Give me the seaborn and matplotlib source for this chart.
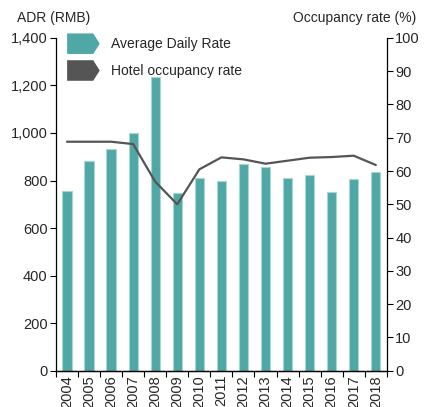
import pandas as pd
import matplotlib
matplotlib.use("Agg")
import matplotlib.pyplot as plt
import seaborn as sns
from matplotlib.patches import Patch, Polygon
from matplotlib.legend_handler import HandlerPatch
from matplotlib.ticker import FuncFormatter, FixedLocator, NullFormatter

years = ['2004', '2005', '2006', '2007', '2008', '2009', '2010', '2011',
         '2012', '2013', '2014', '2015', '2016', '2017', '2018']
adr = [758, 884, 932, 1000, 1235, 749, 811, 797, 870, 858, 811, 825, 752, 807, 837]
occupancy = [68.8, 68.8, 68.8, 68.1, 56.8, 50.0, 60.5, 64.1, 63.5, 62.2, 63.1, 64.0, 64.2, 64.6, 61.8]

bar_color = '#4fa8a5'
line_color = '#555555'

df = pd.DataFrame({'year': years, 'adr': adr, 'occ': occupancy})

sns.set_style('white')
plt.rcParams['font.family'] = ['Liberation Sans', 'DejaVu Sans']
plt.rcParams['font.size'] = 10


class ArrowHandler(HandlerPatch):
    # pentagon-shaped legend key, like an arrow tag
    def create_artists(self, legend, orig_handle, xdescent, ydescent,
                       width, height, fontsize, trans):
        x0, y0 = -xdescent, -ydescent
        verts = [(x0, y0), (x0 + 0.8 * width, y0), (x0 + width, y0 + height / 2),
                 (x0 + 0.8 * width, y0 + height), (x0, y0 + height)]
        p = Polygon(verts, closed=True, facecolor=orig_handle.get_facecolor(),
                    edgecolor='none', transform=trans)
        return [p]


fig = plt.figure(figsize=(4.27, 4.07), dpi=100)
ax = fig.add_axes([0.131, 0.089, 0.775, 0.818])

sns.barplot(data=df, x='year', y='adr', color=bar_color, width=0.42,
            saturation=1, edgecolor='#a8d5d2', linewidth=0.8, ax=ax)
ax.set_xlim(-0.5, 14.5)
ax.set_ylim(0, 1400)
ax.set_yticks(range(0, 1401, 200))
ax.yaxis.set_major_formatter(FuncFormatter(lambda v, p: f'{int(v):,}'))
ax.set_xlabel('')
ax.set_ylabel('')

ax2 = ax.twinx()
sns.lineplot(x=list(range(len(years))), y=occupancy, color=line_color,
             linewidth=1.6, ax=ax2)
ax2.set_ylim(0, 100)
ax2.set_yticks(range(0, 101, 10))
ax2.set_xlim(-0.5, 14.5)

# x ticks: labels at centres, tick marks between categories
ax.set_xticks(range(len(years)))
ax.set_xticklabels(years, rotation=90)
ax.tick_params(axis='x', which='major', length=0, pad=3, labelsize=10.5)
ax.xaxis.set_minor_locator(FixedLocator([i + 0.5 for i in range(-1, 15)]))
ax.xaxis.set_minor_formatter(NullFormatter())
ax.tick_params(axis='x', which='minor', length=4, width=0.8, color='black', bottom=True)
ax.tick_params(axis='y', length=4, width=0.8, color='black', left=True, labelsize=10.5, pad=2)
ax2.tick_params(axis='y', length=4, width=0.8, color='black', right=True, labelsize=10.5, pad=2)

for a in (ax, ax2):
    a.spines['top'].set_visible(False)
    for s in ('left', 'right', 'bottom'):
        a.spines[s].set_color('black')
        a.spines[s].set_linewidth(0.9)
ax.spines['right'].set_visible(False)
ax2.spines['left'].set_visible(False)

fig.text(0.04, 0.955, 'ADR (RMB)', ha='left', va='center', fontsize=10)
fig.text(0.975, 0.955, 'Occupancy rate (%)', ha='right', va='center', fontsize=10)

handles = [Patch(facecolor=bar_color), Patch(facecolor=line_color)]
ax2.legend(handles, ['Average Daily Rate', 'Hotel occupancy rate'],
           handler_map={Patch: ArrowHandler()}, loc='upper left',
           bbox_to_anchor=(0.017, 1.03), borderaxespad=0, frameon=False,
           fontsize=10, handlelength=2.35, handleheight=1.9,
           labelspacing=0.45, handletextpad=0.8)

fig.savefig('out.png', dpi=100)
